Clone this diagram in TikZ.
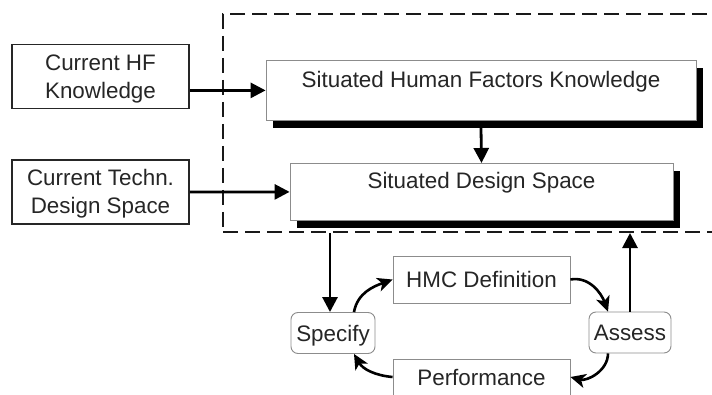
\documentclass[tikz,border=0pt]{standalone}
\usepackage{fontspec}
\setmainfont{Liberation Sans}
\usetikzlibrary{arrows.meta,shadows}

\tikzset{
    txt/.style={font=\fontsize{22.4}{28}\selectfont, text=black!85},
    inbox/.style={txt, draw=black!85, line width=1.8pt, minimum width=177pt,
        minimum height=64pt, inner sep=0pt, text height=44pt, text depth=0pt},
    sitbox/.style={txt, draw=black!45, line width=0.8pt, fill=white, inner sep=0pt,
        drop shadow={shadow xshift=7pt, shadow yshift=-7.5pt, fill=black, opacity=1}},
    stepbox/.style={txt, draw=black!45, line width=0.9pt, minimum width=177pt,
        minimum height=47pt, text height=16pt, text depth=0pt, inner sep=0pt},
    actbox/.style={stepbox, rounded corners=7pt, minimum width=84pt, minimum height=41pt},
    frame/.style={draw=black!90, line width=2pt, dash pattern=on 15pt off 7pt,
        minimum width=507pt, minimum height=218pt},
    flow/.style={line width=2.8pt, -{Triangle[length=15pt,width=15pt]}},
    cycle/.style={line width=2.6pt, -{Stealth[length=15pt,width=14pt,inset=4pt]}}
}
\newcommand{\twolines}[2]{\begin{tabular}[b]{@{}c@{}}#1\\#2\end{tabular}}

\begin{document}
\begin{tikzpicture}[x=1pt,y=1pt]
    \clip (0,0) rectangle (712,394);
    \fill[white] (0,0) rectangle (712,394);

    \node[frame] (situated) at (476.5,271) {};

    \node[inbox] (hf) at (100.5,317.5) {\twolines{Current HF}{Knowledge}};
    \node[inbox] (techn) at (100.5,202) {\twolines{Current Techn.}{Design Space}};

    \node[sitbox, anchor=north, minimum width=430pt, text height=27pt, text depth=33pt]
        (shfk) at (481,334) {Situated Human Factors Knowledge};
    \node[sitbox, anchor=north, minimum width=383pt, text height=25pt, text depth=32pt]
        (sds) at (481.5,231) {Situated Design Space};

    \node[actbox] (specify) at (333,61) {Specify};
    \node[stepbox] (hmc) at (481.5,114.5) {HMC Definition};
    \node[actbox, minimum width=82pt] (assess) at (630,61.5) {Assess};
    \node[stepbox, text depth=11pt] (perf) at (481.5,11.5) {Performance};

    \draw[flow] (hf.east |- shfk.west) -- (shfk.west);
    \draw[flow] (techn.east) -- (sds.west);
    \draw[flow] ([yshift=-7pt]shfk.south) -- (sds.north);
    \draw[flow] ([xshift=-3pt]situated.south -| specify.north) -- ([xshift=-3pt]specify.north);
    \draw[flow] (assess.north) -- (assess.north |- situated.south);

    % design / assess loop
    \draw[cycle] ([xshift=21pt]specify.north) to[out=80,in=200] (hmc.west);
    \draw[cycle] (hmc.east) to[out=10,in=110] ([xshift=-22pt]assess.north);
    \draw[cycle] ([xshift=-22pt]assess.south) to[out=-90,in=-15] ([yshift=5.5pt]perf.east);
    \draw[cycle] ([yshift=5.5pt]perf.west) to[out=175,in=-60] ([xshift=21pt]specify.south);
\end{tikzpicture}
\end{document}
